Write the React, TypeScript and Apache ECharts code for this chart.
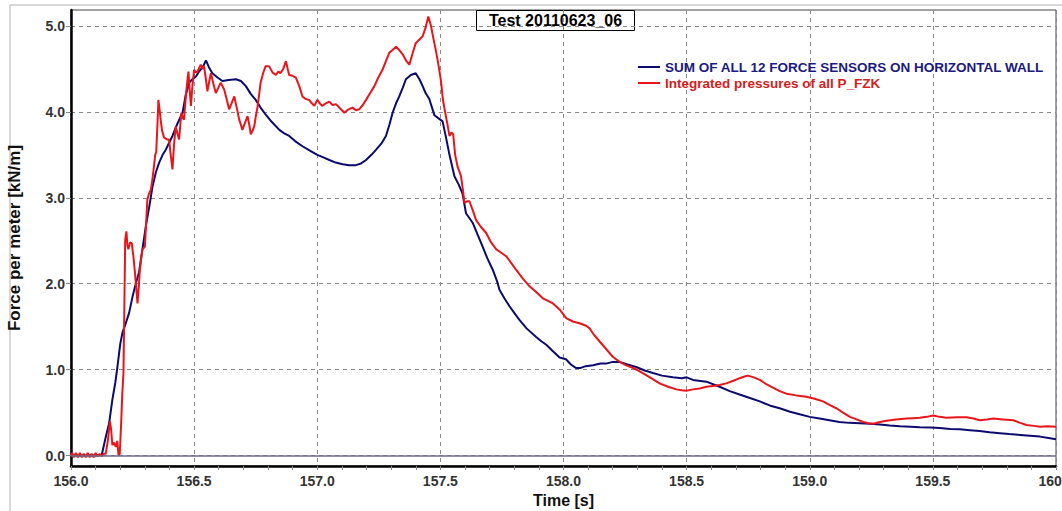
import React, { useEffect, useRef } from "react";
import * as echarts from "echarts";

const seriesNames = ["SUM OF ALL 12 FORCE SENSORS ON HORIZONTAL WALL", "Integrated pressures of all P_FZK"];
const titleText = "Test 20110623_06";
const xTitle = "Time [s]";
const yTitle = "Force per meter [kN/m]";
const yTickValues = [0, 1, 2, 3, 4, 5];

const sumSensors: [number, number][] = [
  [156.0, 0.0], [156.05, 0.0], [156.1, 0.0], [156.125, 0.01], [156.14, 0.2], [156.155, 0.38], [156.168, 0.65],
  [156.18, 0.85], [156.188, 1.02], [156.2, 1.3], [156.209, 1.43], [156.22, 1.52], [156.236, 1.66], [156.25, 1.85],
  [156.263, 2.0], [156.276, 2.13], [156.29, 2.4], [156.304, 2.67], [156.318, 2.9], [156.331, 3.13], [156.345, 3.3],
  [156.358, 3.41], [156.372, 3.5], [156.385, 3.56], [156.4, 3.65], [156.412, 3.72], [156.43, 3.85], [156.453, 3.99],
  [156.466, 4.2], [156.48, 4.34], [156.493, 4.38], [156.507, 4.41], [156.52, 4.47], [156.535, 4.52], [156.548, 4.6],
  [156.56, 4.52], [156.574, 4.45], [156.595, 4.4], [156.615, 4.36], [156.64, 4.37], [156.67, 4.38], [156.69, 4.36],
  [156.71, 4.3], [156.73, 4.21], [156.75, 4.14], [156.77, 4.05], [156.79, 3.97], [156.81, 3.9], [156.846, 3.79],
  [156.866, 3.75], [156.886, 3.72], [156.91, 3.66], [156.94, 3.6], [156.97, 3.55], [157.0, 3.5], [157.025, 3.47],
  [157.049, 3.44], [157.075, 3.41], [157.103, 3.39], [157.13, 3.38], [157.157, 3.38], [157.178, 3.4], [157.198, 3.44],
  [157.22, 3.5], [157.239, 3.56], [157.26, 3.63], [157.279, 3.72], [157.293, 3.85], [157.306, 3.99], [157.32, 4.1],
  [157.333, 4.18], [157.347, 4.28], [157.36, 4.38], [157.38, 4.43], [157.4, 4.45], [157.415, 4.38], [157.428, 4.3],
  [157.44, 4.22], [157.455, 4.15], [157.476, 3.96], [157.49, 3.93], [157.509, 3.89], [157.523, 3.7], [157.537, 3.5],
  [157.557, 3.25], [157.575, 3.15], [157.59, 3.05], [157.604, 2.82], [157.631, 2.71], [157.65, 2.58], [157.672, 2.43],
  [157.69, 2.3], [157.713, 2.16], [157.73, 2.03], [157.74, 1.93], [157.76, 1.83], [157.78, 1.74], [157.8, 1.66],
  [157.821, 1.58], [157.85, 1.48], [157.889, 1.38], [157.91, 1.33], [157.93, 1.29], [157.955, 1.22], [157.984, 1.14],
  [158.01, 1.12], [158.03, 1.06], [158.05, 1.02], [158.07, 1.02], [158.09, 1.04], [158.12, 1.05], [158.15, 1.07],
  [158.173, 1.07], [158.2, 1.09], [158.228, 1.09], [158.26, 1.06], [158.295, 1.03], [158.33, 0.99], [158.363, 0.96],
  [158.4, 0.93], [158.444, 0.91], [158.48, 0.9], [158.5, 0.91], [158.526, 0.88], [158.58, 0.86], [158.634, 0.8],
  [158.675, 0.75], [158.715, 0.71], [158.757, 0.67], [158.797, 0.63], [158.84, 0.58], [158.878, 0.55], [158.92, 0.51],
  [158.959, 0.48], [159.0, 0.45], [159.04, 0.43], [159.08, 0.41], [159.12, 0.39], [159.16, 0.38], [159.203, 0.375],
  [159.245, 0.37], [159.285, 0.36], [159.325, 0.35], [159.366, 0.34], [159.41, 0.335], [159.447, 0.33], [159.49, 0.325],
  [159.528, 0.32], [159.57, 0.31], [159.61, 0.305], [159.65, 0.295], [159.69, 0.285], [159.73, 0.27], [159.772, 0.26],
  [159.81, 0.25], [159.854, 0.24], [159.895, 0.23], [159.935, 0.22], [159.97, 0.205], [160.0, 0.19],
];

const integratedPressures: [number, number][] = [
  [156.0, 0.0], [156.005, 0.03], [156.012, -0.02], [156.02, 0.03], [156.028, -0.02], [156.036, 0.03], [156.044, -0.02],
  [156.052, 0.02], [156.06, -0.02], [156.068, 0.03], [156.076, -0.02], [156.084, 0.02], [156.092, -0.02], [156.1, 0.03],
  [156.108, -0.01], [156.116, 0.02], [156.124, -0.01], [156.132, 0.02], [156.141, 0.02], [156.15, 0.18], [156.158, 0.4],
  [156.163, 0.3], [156.168, 0.12], [156.175, 0.15], [156.182, 0.1], [156.188, 0.17], [156.193, 0.0], [156.198, 0.02],
  [156.204, 0.4], [156.208, 0.7], [156.213, 0.96], [156.217, 1.8], [156.22, 2.51], [156.225, 2.61], [156.229, 2.45],
  [156.233, 2.4], [156.24, 2.48], [156.247, 2.47], [156.254, 2.3], [156.26, 2.12], [156.265, 1.95], [156.27, 1.77],
  [156.275, 1.95], [156.279, 2.13], [156.285, 2.3], [156.29, 2.4], [156.3, 2.43], [156.305, 2.7], [156.31, 2.98],
  [156.317, 3.05], [156.324, 3.09], [156.33, 3.2], [156.337, 3.37], [156.342, 3.5], [156.346, 3.53], [156.351, 3.85],
  [156.355, 4.14], [156.36, 4.02], [156.364, 3.91], [156.37, 3.78], [156.378, 3.7], [156.39, 3.68], [156.398, 3.68],
  [156.405, 3.5], [156.412, 3.33], [156.418, 3.6], [156.425, 3.83], [156.432, 3.75], [156.439, 3.68], [156.444, 3.85],
  [156.448, 3.99], [156.454, 3.93], [156.459, 3.91], [156.464, 4.1], [156.469, 4.26], [156.474, 4.4], [156.477, 4.47],
  [156.482, 4.25], [156.487, 4.07], [156.493, 4.3], [156.5, 4.49], [156.507, 4.46], [156.514, 4.47], [156.52, 4.51],
  [156.527, 4.55], [156.534, 4.5], [156.54, 4.53], [156.547, 4.4], [156.554, 4.24], [156.561, 4.35], [156.568, 4.45],
  [156.578, 4.33], [156.588, 4.22], [156.598, 4.28], [156.608, 4.34], [156.615, 4.3], [156.622, 4.26], [156.632, 4.15],
  [156.642, 4.03], [156.652, 4.1], [156.663, 4.18], [156.673, 4.05], [156.683, 3.91], [156.69, 3.85], [156.696, 3.79],
  [156.705, 3.86], [156.717, 3.95], [156.724, 3.85], [156.73, 3.74], [156.737, 3.78], [156.744, 3.83], [156.75, 3.94],
  [156.757, 4.05], [156.764, 4.2], [156.77, 4.34], [156.78, 4.45], [156.79, 4.53], [156.805, 4.53], [156.818, 4.46],
  [156.832, 4.43], [156.842, 4.47], [156.85, 4.45], [156.862, 4.5], [156.873, 4.59], [156.88, 4.5], [156.886, 4.43],
  [156.9, 4.42], [156.913, 4.4], [156.927, 4.3], [156.94, 4.18], [156.953, 4.15], [156.967, 4.14], [156.978, 4.1],
  [156.988, 4.07], [157.0, 4.14], [157.01, 4.1], [157.02, 4.07], [157.035, 4.1], [157.049, 4.12], [157.062, 4.08],
  [157.076, 4.09], [157.093, 4.04], [157.11, 3.99], [157.127, 4.03], [157.143, 4.05], [157.157, 4.02], [157.17, 4.03],
  [157.185, 4.08], [157.198, 4.14], [157.215, 4.22], [157.232, 4.3], [157.248, 4.4], [157.265, 4.49], [157.28, 4.6],
  [157.293, 4.69], [157.306, 4.72], [157.32, 4.76], [157.333, 4.72], [157.347, 4.67], [157.36, 4.6], [157.374, 4.55],
  [157.387, 4.68], [157.4, 4.8], [157.414, 4.84], [157.428, 4.88], [157.44, 4.98], [157.451, 5.11], [157.457, 5.05],
  [157.462, 5.0], [157.472, 4.85], [157.482, 4.71], [157.492, 4.55], [157.503, 4.35], [157.51, 4.15], [157.516, 4.05],
  [157.527, 3.88], [157.537, 3.72], [157.545, 3.76], [157.552, 3.74], [157.56, 3.5], [157.57, 3.36], [157.578, 3.3],
  [157.584, 3.25], [157.591, 3.1], [157.598, 2.94], [157.608, 2.96], [157.618, 2.96], [157.632, 2.85], [157.645, 2.74],
  [157.665, 2.66], [157.686, 2.59], [157.706, 2.48], [157.727, 2.4], [157.747, 2.36], [157.767, 2.32], [157.788, 2.24],
  [157.808, 2.16], [157.835, 2.06], [157.862, 1.97], [157.89, 1.9], [157.916, 1.83], [157.937, 1.8], [157.957, 1.77],
  [157.984, 1.7], [158.011, 1.6], [158.038, 1.56], [158.065, 1.54], [158.092, 1.51], [158.106, 1.48], [158.12, 1.42],
  [158.146, 1.33], [158.173, 1.24], [158.2, 1.15], [158.228, 1.09], [158.255, 1.05], [158.29, 1.01], [158.322, 0.96],
  [158.356, 0.9], [158.39, 0.84], [158.425, 0.8], [158.458, 0.77], [158.48, 0.76], [158.499, 0.755], [158.526, 0.77],
  [158.553, 0.78], [158.58, 0.8], [158.607, 0.81], [158.634, 0.82], [158.661, 0.84], [158.69, 0.87], [158.715, 0.9],
  [158.735, 0.92], [158.749, 0.93], [158.773, 0.91], [158.797, 0.88], [158.824, 0.83], [158.85, 0.79], [158.878, 0.75],
  [158.905, 0.72], [158.945, 0.7], [158.986, 0.685], [159.02, 0.66], [159.054, 0.63], [159.08, 0.59], [159.108, 0.55],
  [159.135, 0.5], [159.163, 0.45], [159.19, 0.42], [159.217, 0.39], [159.24, 0.375], [159.258, 0.37], [159.285, 0.39],
  [159.312, 0.405], [159.35, 0.42], [159.393, 0.43], [159.42, 0.435], [159.447, 0.44], [159.475, 0.45], [159.501, 0.465],
  [159.528, 0.45], [159.555, 0.44], [159.6, 0.445], [159.637, 0.445], [159.665, 0.43], [159.69, 0.41], [159.72, 0.42],
  [159.745, 0.43], [159.785, 0.42], [159.826, 0.41], [159.855, 0.38], [159.88, 0.355], [159.91, 0.345], [159.935, 0.335],
  [159.965, 0.34], [160.0, 0.335],
];

const BLUE = "#0b0b6e";
const RED = "#e8161b";
const FONT = "Arial, 'Liberation Sans', sans-serif";

export default function App() {
  const ref = useRef<HTMLDivElement>(null);
  useEffect(() => {
    if (!ref.current) return;
    const chart = echarts.init(ref.current, null, { renderer: "svg" });
    chart.setOption({
      animation: false,
      backgroundColor: "#ffffff",
      textStyle: { fontFamily: FONT },
      grid: {
        left: 71, top: 10, right: 6, bottom: 45,
        outerBoundsMode: "none",
        containLabel: false,
        show: true, borderColor: "#444", borderWidth: 1, backgroundColor: "#ffffff",
      },
      legend: {
        orient: "vertical",
        left: 638,
        top: 60,
        padding: 0,
        itemGap: 2,
        itemWidth: 22,
        itemHeight: 2,
        icon: "rect",
        textStyle: { fontSize: 13.5, fontWeight: "bold", fontFamily: FONT, lineHeight: 14 },
        data: [
          { name: seriesNames[0], textStyle: { color: "#1a1a80" } },
          { name: seriesNames[1], textStyle: { color: "#d42020" } },
        ],
      },
      xAxis: {
        type: "value",
        min: 156,
        max: 160,
        interval: 0.5,
        name: xTitle,
        nameLocation: "middle",
        nameGap: 19,
        nameTextStyle: { fontSize: 16, fontWeight: "bold", color: "#111", fontFamily: FONT },
        axisLine: { show: true, onZero: false, lineStyle: { color: "#000", width: 2.5 } },
        axisTick: { show: true, length: 4, lineStyle: { color: "#888" } },
        minorTick: { show: true, splitNumber: 5, length: 4, lineStyle: { color: "#888" } },
        axisLabel: {
          fontSize: 14, fontWeight: "bold", color: "#333", margin: 8, fontFamily: FONT,
          formatter: (v: number) => v.toFixed(1),
        },
        splitLine: { show: true, lineStyle: { color: "#8a8a8a", type: [4, 4], width: 1 } },
      },
      yAxis: {
        type: "value",
        min: -0.122,
        max: 5.186,
        name: yTitle,
        nameLocation: "middle",
        nameGap: 48,
        nameTextStyle: { fontSize: 17, fontWeight: "bold", color: "#111", fontFamily: FONT },
        axisLine: { show: true, onZero: false, lineStyle: { color: "#000", width: 2.5 } },
        axisTick: { show: true, length: 5, customValues: yTickValues, lineStyle: { color: "#888" } },
        axisLabel: {
          fontSize: 14, fontWeight: "bold", color: "#333", margin: 6, fontFamily: FONT,
          customValues: yTickValues,
          formatter: (v: number) => v.toFixed(1),
        },
        splitLine: { show: true, lineStyle: { color: "#8a8a8a", type: [4, 4], width: 1 } },
      },
      graphic: [
        {
          type: "rect",
          shape: { x: 10, y: 5, width: 1060, height: 520 },
          style: { fill: "none", stroke: "#b0b0b0", lineWidth: 1 },
          silent: true,
          z: -10,
        },
        {
          type: "group",
          left: 476,
          top: 10,
          z: 100,
          children: [
            {
              type: "rect",
              shape: { x: 0, y: 0, width: 158, height: 20 },
              style: { fill: "#ffffff", stroke: "#000", lineWidth: 1 },
            },
            {
              type: "text",
              x: 79,
              y: 10,
              style: {
                text: titleText, fontSize: 16, fontWeight: "bold", fill: "#000",
                fontFamily: FONT, align: "center", verticalAlign: "middle",
              },
            },
          ],
        },
      ],
      series: [
        {
          name: seriesNames[0],
          type: "line",
          data: sumSensors,
          showSymbol: false,
          symbol: "none",
          lineStyle: { color: BLUE, width: 2 },
          itemStyle: { color: BLUE },
          markLine: {
            silent: true,
            symbol: "none",
            label: { show: false },
            lineStyle: { color: "#6b6b8e", width: 1.5, type: "solid" },
            data: [{ yAxis: 0 }],
          },
        },
        {
          name: seriesNames[1],
          type: "line",
          data: integratedPressures,
          showSymbol: false,
          symbol: "none",
          lineStyle: { color: RED, width: 2 },
          itemStyle: { color: RED },
        },
      ],
    });
    return () => chart.dispose();
  }, []);
  return (
    <div
      ref={ref}
      style={{ position: "absolute", left: 0, top: 0, width: 1062, height: 511 }}
    />
  );
}
